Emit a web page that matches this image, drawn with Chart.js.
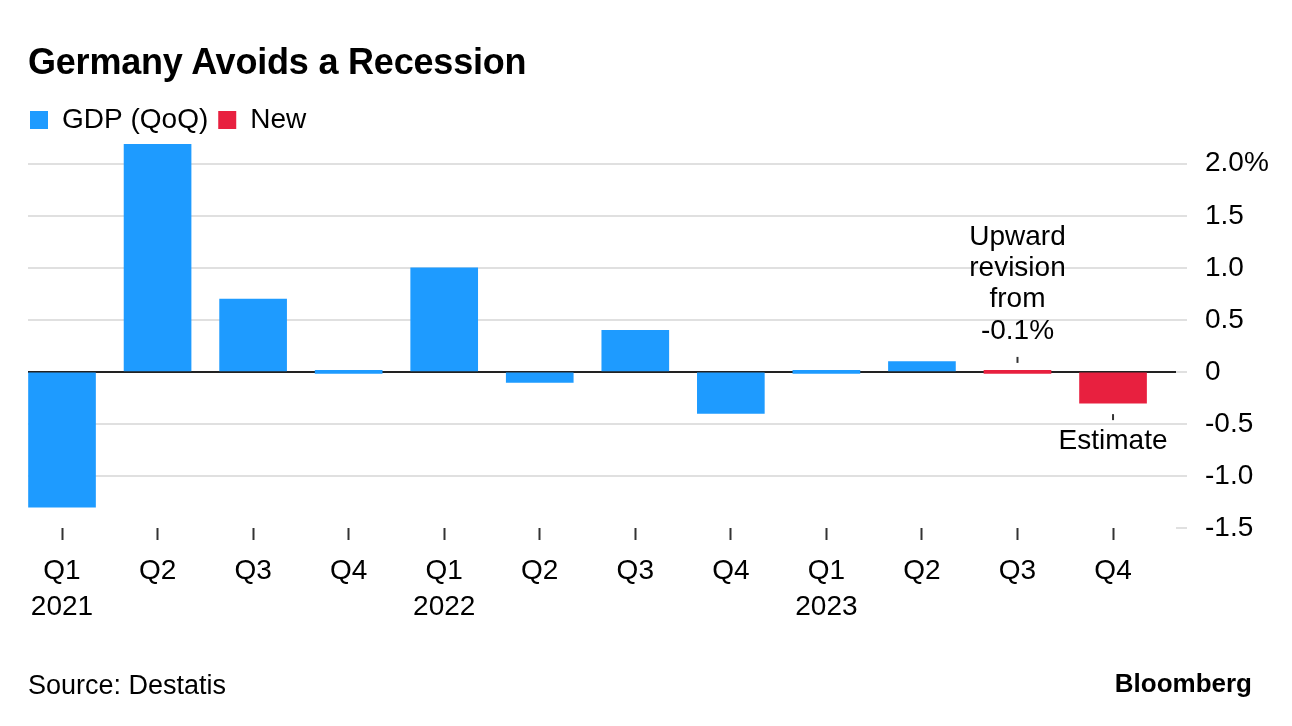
<!DOCTYPE html>
<html>
<head>
<meta charset="utf-8">
<script src="https://cdn.jsdelivr.net/npm/chart.js@4.4.1/dist/chart.umd.min.js"></script>
<style>
  html, body { margin: 0; padding: 0; background: #ffffff; }
  #wrap { position: relative; width: 1292px; height: 726px; overflow: hidden; }
  #c { position: absolute; left: 0; top: 0; }
  .title { position: absolute; left: 28px; top: 42px; font: bold 36px/40px "Liberation Sans", Arial, sans-serif; color: #000; letter-spacing: -0.2px; }
  .source { position: absolute; left: 28px; top: 669px; font: 27px/32px "Liberation Sans", Arial, sans-serif; color: #000; }
  .brand { position: absolute; right: 40px; top: 668px; font: bold 26px/30px "Liberation Sans", Arial, sans-serif; color: #000; }
</style>
</head>
<body>
<div id="wrap">
  <canvas id="c" width="1292" height="726"></canvas>
  <div class="title">Germany Avoids a Recession</div>
  <div class="source">Source: Destatis</div>
  <div class="brand">Bloomberg</div>
</div>
<script>
// ---- data ----
const quarters = ['Q1', 'Q2', 'Q3', 'Q4', 'Q1', 'Q2', 'Q3', 'Q4', 'Q1', 'Q2', 'Q3', 'Q4'];
const years = ['2021', '', '', '', '2022', '', '', '', '2023', '', '', ''];
const gdpQoQ = [-1.3, 2.2, 0.7, 0.0, 1.0, -0.1, 0.4, -0.4, 0.0, 0.1, null, null];
const newValues = [null, null, null, null, null, null, null, null, null, null, 0.0, -0.3];
const yTickValues = [-1.5, -1.0, -0.5, 0, 0.5, 1.0, 1.5, 2.0];
const yTickLabels = ['-1.5', '-1.0', '-0.5', '0', '0.5', '1.0', '1.5', '2.0%'];
const revisionNote = ['Upward', 'revision', 'from', '-0.1%'];
const estimateNote = 'Estimate';

const FONT = '"Liberation Sans", Arial, sans-serif';
const BLUE = '#1E9BFF';
const RED = '#E8203F';

const toPoints = arr => arr.map((v, i) => ({ x: i, y: v }));

const annotationPlugin = {
  id: 'notes',
  afterDatasetsDraw(chart) {
    const { ctx, scales: { x, y } } = chart;
    ctx.save();
    ctx.font = '28px ' + FONT;
    ctx.fillStyle = '#000';
    ctx.textAlign = 'center';
    ctx.textBaseline = 'middle';
    // revision note above Q3 2023
    const xr = x.getPixelForValue(10);
    const y0 = y.getPixelForValue(newValues[10]);
    ctx.strokeStyle = '#333';
    ctx.lineWidth = 2;
    ctx.beginPath();
    ctx.moveTo(xr, y0 - 15);
    ctx.lineTo(xr, y0 - 9);
    ctx.stroke();
    const lh = 31.3;
    revisionNote.forEach((t, i) => {
      ctx.fillText(t, xr, y0 - 41 - (revisionNote.length - 1 - i) * lh);
    });
    // estimate note below Q4 2023
    const xe = x.getPixelForValue(11);
    const ye = y.getPixelForValue(newValues[11]);
    ctx.beginPath();
    ctx.moveTo(xe, ye + 11);
    ctx.lineTo(xe, ye + 17);
    ctx.stroke();
    ctx.fillText(estimateNote, xe, ye + 38);
    ctx.restore();
  }
};

new Chart(document.getElementById('c'), {
  type: 'bar',
  data: {
    datasets: [
      { label: 'GDP (QoQ)', data: toPoints(gdpQoQ), backgroundColor: BLUE, borderWidth: 0, xAxisID: 'x', yAxisID: 'y' },
      { label: 'New', data: toPoints(newValues), backgroundColor: RED, borderWidth: 0, xAxisID: 'x', yAxisID: 'y' }
    ]
  },
  options: {
    responsive: false,
    animation: false,
    devicePixelRatio: 1,
    layout: { padding: { left: 20, right: 0, top: 96, bottom: 0 } },
    datasets: { bar: { grouped: false, barThickness: 67, minBarLength: 3 } },
    plugins: {
      title: { display: false },
      tooltip: { enabled: false },
      legend: {
        display: true,
        position: 'top',
        align: 'start',
        labels: {
          boxWidth: 18,
          boxHeight: 18,
          padding: 10,
          color: '#000',
          font: { family: FONT, size: 28 }
        }
      }
    },
    scales: {
      pad: {
        type: 'linear',
        position: 'left',
        display: true,
        min: 0,
        max: 1,
        grid: { display: false, drawTicks: false },
        border: { display: false },
        ticks: { display: false },
        afterFit(s) { s.width = 8; }
      },
      x: {
        type: 'linear',
        position: 'bottom',
        offset: false,
        min: -0.356,
        max: 11.659,
        afterBuildTicks(s) { s.ticks = quarters.map((_, i) => ({ value: i })); },
        afterFit(s) { s.height = 198; },
        grid: {
          display: true,
          offset: false,
          drawOnChartArea: false,
          drawTicks: true,
          tickLength: 12,
          tickColor: '#333',
          tickWidth: 2
        },
        border: { display: false },
        ticks: {
          autoSkip: false,
          maxRotation: 0,
          padding: 13,
          color: '#000',
          font: { family: FONT, size: 28, lineHeight: 1.286 },
          callback(value) {
            const i = Math.round(value);
            return years[i] ? [quarters[i], years[i]] : quarters[i];
          }
        }
      },
      y: {
        type: 'linear',
        position: 'right',
        min: -1.5,
        max: 2.19,
        afterBuildTicks(s) { s.ticks = yTickValues.map(v => ({ value: v })); },
        afterFit(s) { s.width = 116; },
        grid: {
          color(ctx) {
            if (!ctx.tick) return '#e0e0e0';
            if (ctx.tick.value === 0) return '#222';
            if (ctx.tick.value === -1.5) return 'rgba(0,0,0,0)';
            return '#e0e0e0';
          },
          lineWidth: 2,
          tickColor: '#e0e0e0',
          tickLength: 11,
          tickWidth: 2,
          drawTicks: true
        },
        border: { display: false },
        ticks: {
          padding: 18,
          color: '#000',
          font: { family: FONT, size: 28 },
          callback(value, index) { return yTickLabels[index]; }
        }
      }
    }
  },
  plugins: [annotationPlugin]
});
</script>
</body>
</html>
